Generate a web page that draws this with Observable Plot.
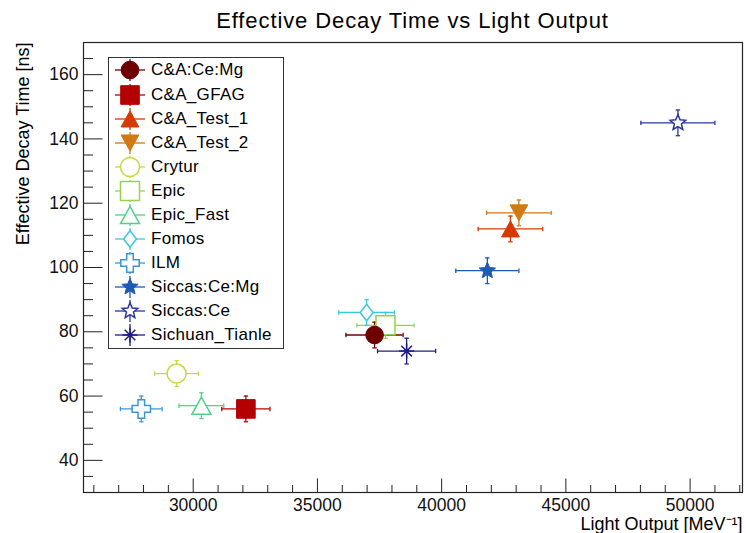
<!DOCTYPE html>
<html><head><meta charset="utf-8">
<script src="https://cdn.jsdelivr.net/npm/d3@7"></script>
<script src="https://cdn.jsdelivr.net/npm/@observablehq/plot@0.6"></script>
<style>
body{margin:0;background:#fff;font-family:"Liberation Sans",Arial,Helvetica,sans-serif;color:#000;}
#wrap{position:relative;width:746px;height:533px;overflow:hidden;}
#title{height:38px;position:relative;}
#title span{position:absolute;top:10px;left:83px;width:659px;text-align:center;font-size:22px;line-height:22px;letter-spacing:0.9px;white-space:nowrap;}
#legend{position:absolute;left:108px;top:57px;width:174px;height:289.6px;padding-top:0.4px;border:1px solid #333;background:#fff;}
.row{height:24.1px;display:flex;align-items:center;}
.row svg{width:42px;height:24px;flex:none;}
.row span{font-size:17px;letter-spacing:0.3px;white-space:nowrap;}
</style>
</head><body>
<div id="wrap">
  <div id="title"><span>Effective Decay Time vs Light Output</span></div>
  <div id="chart"></div>
  <div id="legend"></div>
</div>
<script>
// ---- data ----
const names = ["C&A:Ce:Mg","C&A_GFAG","C&A_Test_1","C&A_Test_2","Crytur","Epic","Epic_Fast","Fomos","ILM","Siccas:Ce:Mg","Siccas:Ce","Sichuan_Tianle"];
const lightOutput = [37300, 32120, 42770, 43110, 29330, 37740, 30330, 36980, 27910, 41840, 49510, 38590];
const lightErr    = [1150, 970, 1300, 1300, 880, 1150, 900, 1120, 840, 1270, 1490, 1170];
const decayTime   = [79, 56, 112, 117, 67, 82, 57, 86, 56, 99, 145, 74];
const decayErr    = [4, 4, 4, 4, 4, 4, 4, 4, 4, 4, 4, 4];
const colors = ["#6e0000","#b40000","#d23c00","#d27814","#c9d93a","#96d250","#50d28c","#3cc8dc","#3c96d2","#1e5ab4","#2837a0","#1e1e82"];
const markers = ["circle","square","triUp","triDown","circle","square","triUp","diamond","cross","star","star","asterisk"];
const filled  = [true, true, true, true, false, false, false, false, false, true, false, false];
const sizes   = [8.8, 9.3, 8.9, 8.9, 9.5, 9.5, 9.5, 8.3, 9.2, 8.6, 8.2, 7.5];
const xMajor = [30000, 35000, 40000, 45000, 50000];
const yMajor = [40, 60, 80, 100, 120, 140, 160];
const xMinor = d3.range(26000, 52001, 1000).filter(v => v % 5000 !== 0);
const yMinor = d3.range(30, 170.1, 5).filter(v => v % 20 !== 0);

// ---- symbols ----
const R = s => Math.sqrt(s / Math.PI);
function poly(ctx, pts){ctx.moveTo(pts[0][0], pts[0][1]); for (let i = 1; i < pts.length; i++) ctx.lineTo(pts[i][0], pts[i][1]); ctx.closePath();}
const SYM = {
  circle: d3.symbolCircle,
  square: {draw(ctx, s){const r = R(s); poly(ctx, [[-r,-r],[r,-r],[r,r],[-r,r]]);}},
  triUp: {draw(ctx, s){const r = R(s); poly(ctx, [[0,-0.9*r],[r,0.9*r],[-r,0.9*r]]);}},
  triDown: {draw(ctx, s){const r = R(s); poly(ctx, [[0,0.9*r],[r,-0.9*r],[-r,-0.9*r]]);}},
  diamond: {draw(ctx, s){const r = R(s); poly(ctx, [[0,-r],[0.78*r,0],[0,r],[-0.78*r,0]]);}},
  cross: {draw(ctx, s){const r = R(s), a = r*0.36; poly(ctx, [[-a,-r],[a,-r],[a,-a],[r,-a],[r,a],[a,a],[a,r],[-a,r],[-a,a],[-r,a],[-r,-a],[-a,-a]]);}},
  star: {draw(ctx, s){const r = R(s), ri = r*0.45; const pts = []; for (let k = 0; k < 10; k++){const ang = -Math.PI/2 + k*Math.PI/5, rr = k % 2 ? ri : r; pts.push([rr*Math.cos(ang), rr*Math.sin(ang)]);} poly(ctx, pts);}},
  asterisk: {draw(ctx, s){const r = R(s), d = r*0.71; ctx.moveTo(0,-r); ctx.lineTo(0,r); ctx.moveTo(-r,0); ctx.lineTo(r,0); ctx.moveTo(-d,-d); ctx.lineTo(d,d); ctx.moveTo(-d,d); ctx.lineTo(d,-d);}},
  vcap: {draw(ctx, s){const r = R(s); ctx.moveTo(0,-r); ctx.lineTo(0,r);}},
  hcap: {draw(ctx, s){const r = R(s); ctx.moveTo(-r,0); ctx.lineTo(r,0);}}
};

const rows = names.map((n, i) => ({name: n, x: lightOutput[i], ex: lightErr[i], y: decayTime[i], ey: decayErr[i], color: colors[i], marker: markers[i], filled: filled[i], r: sizes[i]}));

// ---- marks ----
const errMarks = [];
for (const d of rows) {
  errMarks.push(
    Plot.ruleY([d], {y: "y", x1: v => v.x - v.ex, x2: v => v.x + v.ex, stroke: d.color, strokeWidth: 1.3}),
    Plot.ruleX([d], {x: "x", y1: v => v.y - v.ey, y2: v => v.y + v.ey, stroke: d.color, strokeWidth: 1.3}),
    Plot.dot([d, d], {x: (v, k) => k ? v.x + v.ex : v.x - v.ex, y: "y", symbol: SYM.vcap, r: 2.2, stroke: d.color, strokeWidth: 1.3}),
    Plot.dot([d, d], {x: "x", y: (v, k) => k ? v.y + v.ey : v.y - v.ey, symbol: SYM.hcap, r: 2.2, stroke: d.color, strokeWidth: 1.3})
  );
}
const openMarks = rows.filter(d => !d.filled).map(d => Plot.dot([d], {x: "x", y: "y", symbol: SYM[d.marker], r: d.r, stroke: d.color, fill: d.marker === "asterisk" ? "none" : "white", strokeWidth: 1.5}));
const fillMarks = rows.filter(d => d.filled).map(d => Plot.dot([d], {x: "x", y: "y", symbol: SYM[d.marker], r: d.r, stroke: d.color, fill: d.color, strokeWidth: 1}));
const centerDot = rows.filter(d => d.marker === "asterisk").map(d => Plot.dot([d], {x: "x", y: "y", r: 2.3, fill: d.color}));

const chart = Plot.plot({
  width: 746,
  height: 495,
  marginLeft: 83,
  marginRight: 4,
  marginTop: 4,
  marginBottom: 41,
  style: {fontFamily: "'Liberation Sans', Arial, sans-serif", fontSize: "17px", color: "#000", background: "white", overflow: "visible"},
  x: {domain: [25584, 52110]},
  y: {domain: [30, 170]},
  marks: [
    Plot.axisX({ticks: xMinor, tickSize: -7, tickFormat: () => "", label: null, stroke: "#222"}),
    Plot.axisX({ticks: xMajor, tickSize: -13.5, tickPadding: 19.5, tickFormat: d => String(d), label: null, stroke: "#222", fontSize: 17.5, letterSpacing: "0.7px", fill: "#111"}),
    Plot.axisY({ticks: yMinor, tickSize: -10, tickFormat: () => "", label: null, stroke: "#222"}),
    Plot.axisY({ticks: yMajor, tickSize: -19.5, tickPadding: 24.5, tickFormat: d => String(d), label: null, stroke: "#222", fontSize: 17.5, letterSpacing: "0.5px", fill: "#111"}),
    Plot.frame({stroke: "#222", strokeWidth: 1.2}),
    ...errMarks,
    ...openMarks,
    ...fillMarks,
    ...centerDot,
    Plot.text(["Light Output [MeV\u207B\u00B9]"], {frameAnchor: "bottom-right", textAnchor: "end", lineAnchor: "bottom", dy: 37, fontSize: 18, fill: "#000"}),
    Plot.text(["Effective Decay Time [ns]"], {frameAnchor: "top-left", textAnchor: "end", lineAnchor: "middle", rotate: -90, dx: -60, fontSize: 18, fill: "#000"})
  ]
});
document.getElementById("chart").appendChild(chart);

// ---- legend ----
const leg = document.getElementById("legend");
for (const d of rows) {
  const row = document.createElement("div");
  row.className = "row";
  const svg = d3.create("svg").attr("width", 42).attr("height", 24);
  svg.append("line").attr("x1", 6).attr("x2", 36).attr("y1", 12).attr("y2", 12).attr("stroke", d.color).attr("stroke-width", 1.3);
  svg.append("line").attr("x1", 21).attr("x2", 21).attr("y1", 1).attr("y2", 23).attr("stroke", d.color).attr("stroke-width", 1.3);
  svg.append("path").attr("transform", "translate(21,12)")
    .attr("d", d3.symbol(SYM[d.marker], Math.PI * d.r * d.r)())
    .attr("fill", d.filled ? d.color : (d.marker === "asterisk" ? "none" : "white"))
    .attr("stroke", d.color).attr("stroke-width", d.filled ? 1 : 1.5);
  if (d.marker === "asterisk") svg.append("circle").attr("cx", 21).attr("cy", 12).attr("r", 2.3).attr("fill", d.color);
  row.appendChild(svg.node());
  const sp = document.createElement("span");
  sp.textContent = d.name;
  row.appendChild(sp);
  leg.appendChild(row);
}
</script>
</body></html>
